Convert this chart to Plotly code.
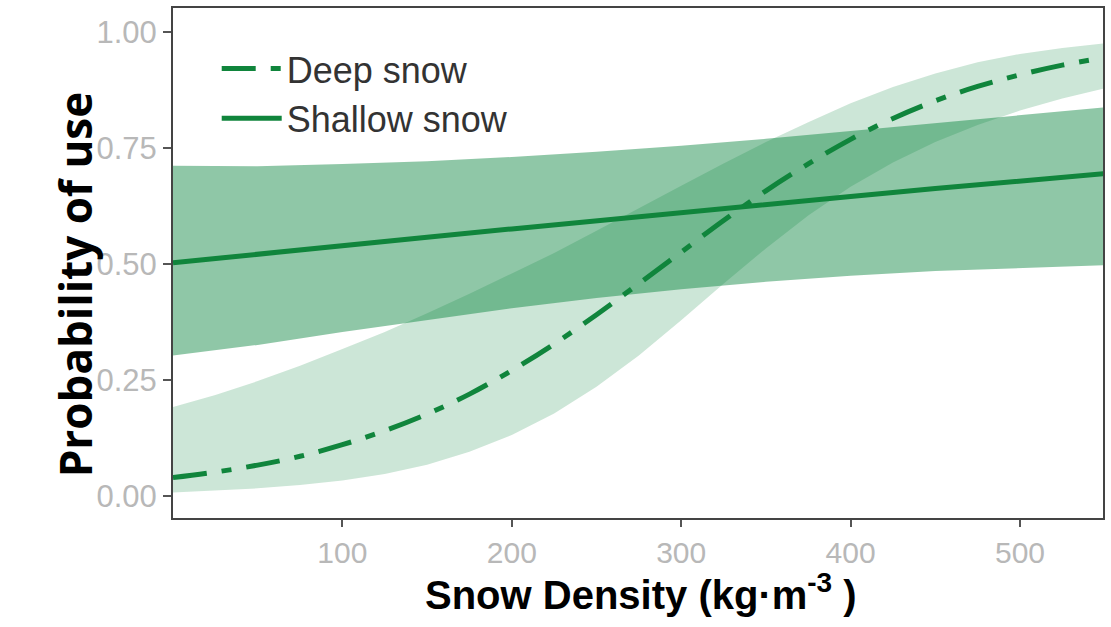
import plotly.graph_objects as go

# ---- data ----
deep_x = [0, 25, 50, 75, 100, 125, 150, 175, 200, 225, 250, 275, 300,
          325, 350, 375, 400, 425, 450, 475, 500, 525, 550]
deep_fit = [0.040, 0.052, 0.067, 0.086, 0.111, 0.141, 0.177, 0.220, 0.271,
            0.328, 0.391, 0.458, 0.526, 0.594, 0.658, 0.716, 0.769, 0.814,
            0.852, 0.883, 0.908, 0.929, 0.945]
deep_lo = [0.008, 0.012, 0.017, 0.024, 0.034, 0.048, 0.068, 0.096, 0.132,
           0.178, 0.236, 0.303, 0.379, 0.458, 0.534, 0.605, 0.667, 0.719,
           0.763, 0.800, 0.831, 0.857, 0.879]
deep_hi = [0.192, 0.218, 0.248, 0.281, 0.317, 0.354, 0.394, 0.436, 0.480,
           0.524, 0.572, 0.621, 0.669, 0.717, 0.763, 0.806, 0.847, 0.882,
           0.911, 0.935, 0.953, 0.966, 0.976]

shallow_x = [0, 50, 100, 150, 200, 250, 300, 350, 400, 450, 500, 550]
shallow_fit = [0.503, 0.522, 0.540, 0.558, 0.576, 0.594, 0.612, 0.629,
               0.646, 0.663, 0.679, 0.695]
shallow_lo = [0.303, 0.326, 0.354, 0.380, 0.405, 0.427, 0.446, 0.462,
              0.475, 0.485, 0.492, 0.498]
shallow_hi = [0.712, 0.711, 0.716, 0.722, 0.731, 0.742, 0.755, 0.770,
              0.787, 0.804, 0.822, 0.838]

x_ticks = [100, 200, 300, 400, 500]
y_ticks = [0.00, 0.25, 0.50, 0.75, 1.00]
y_tick_text = ["0.00", "0.25", "0.50", "0.75", "1.00"]

LINE = "rgb(16,133,60)"
fig = go.Figure()

# deep snow band
fig.add_trace(go.Scatter(x=deep_x, y=deep_lo, mode="lines", line=dict(width=0),
                         showlegend=False, hoverinfo="skip"))
fig.add_trace(go.Scatter(x=deep_x, y=deep_hi, mode="lines", line=dict(width=0),
                         fill="tonexty", fillcolor="rgba(0,128,55,0.20)",
                         showlegend=False, hoverinfo="skip"))
# shallow snow band
fig.add_trace(go.Scatter(x=shallow_x, y=shallow_lo, mode="lines", line=dict(width=0),
                         showlegend=False, hoverinfo="skip"))
fig.add_trace(go.Scatter(x=shallow_x, y=shallow_hi, mode="lines", line=dict(width=0),
                         fill="tonexty", fillcolor="rgba(0,128,55,0.44)",
                         showlegend=False, hoverinfo="skip"))

fig.add_trace(go.Scatter(x=deep_x, y=deep_fit, mode="lines", name="Deep snow",
                         line=dict(color=LINE, width=5, dash="34px,15px,10px,15px",
                                   shape="spline")))
fig.add_trace(go.Scatter(x=shallow_x, y=shallow_fit, mode="lines", name="Shallow snow",
                         line=dict(color=LINE, width=5)))

fig.update_layout(
    width=1111, height=627,
    margin=dict(l=173, r=6, t=8, b=109),
    paper_bgcolor="white", plot_bgcolor="white",
    font=dict(family="Liberation Sans, Arial, sans-serif"),
    showlegend=True,
    legend=dict(x=0.047, y=0.94, xanchor="left", yanchor="top",
                traceorder="normal", itemwidth=60,
                bgcolor="rgba(0,0,0,0)", font=dict(size=36, color="#333333"),
                tracegroupgap=0),
    xaxis=dict(range=[0, 549], tickvals=x_ticks, showgrid=False, zeroline=False,
               showline=True, linecolor="#444444", linewidth=2, mirror=True,
               ticks="outside", ticklen=7, tickwidth=2, tickcolor="#555555",
               tickfont=dict(size=30, color="#b8b8b8")),
    yaxis=dict(range=[-0.047, 1.052], tickvals=y_ticks, ticktext=y_tick_text,
               showgrid=False, zeroline=False,
               showline=True, linecolor="#444444", linewidth=2, mirror=True,
               ticks="outside", ticklen=8, tickwidth=2, tickcolor="#555555",
               tickfont=dict(size=31, color="#b8b8b8")),
    annotations=[
        dict(text="Probability of use", xref="paper", yref="paper",
             x=-0.105, y=0.457, xanchor="center", yanchor="middle", textangle=-90,
             showarrow=False,
             font=dict(family="Open Sans, sans-serif", size=44, color="black",
                       weight="bold")),
        dict(text="Snow Density (kg·m<sup>-3</sup> )", xref="paper", yref="paper",
             x=0.503, y=-0.145, xanchor="center", yanchor="middle",
             showarrow=False,
             font=dict(family="Liberation Sans, Arial, sans-serif", size=40,
                       color="black", weight="bold")),
    ],
)

fig.write_html("out.html")
